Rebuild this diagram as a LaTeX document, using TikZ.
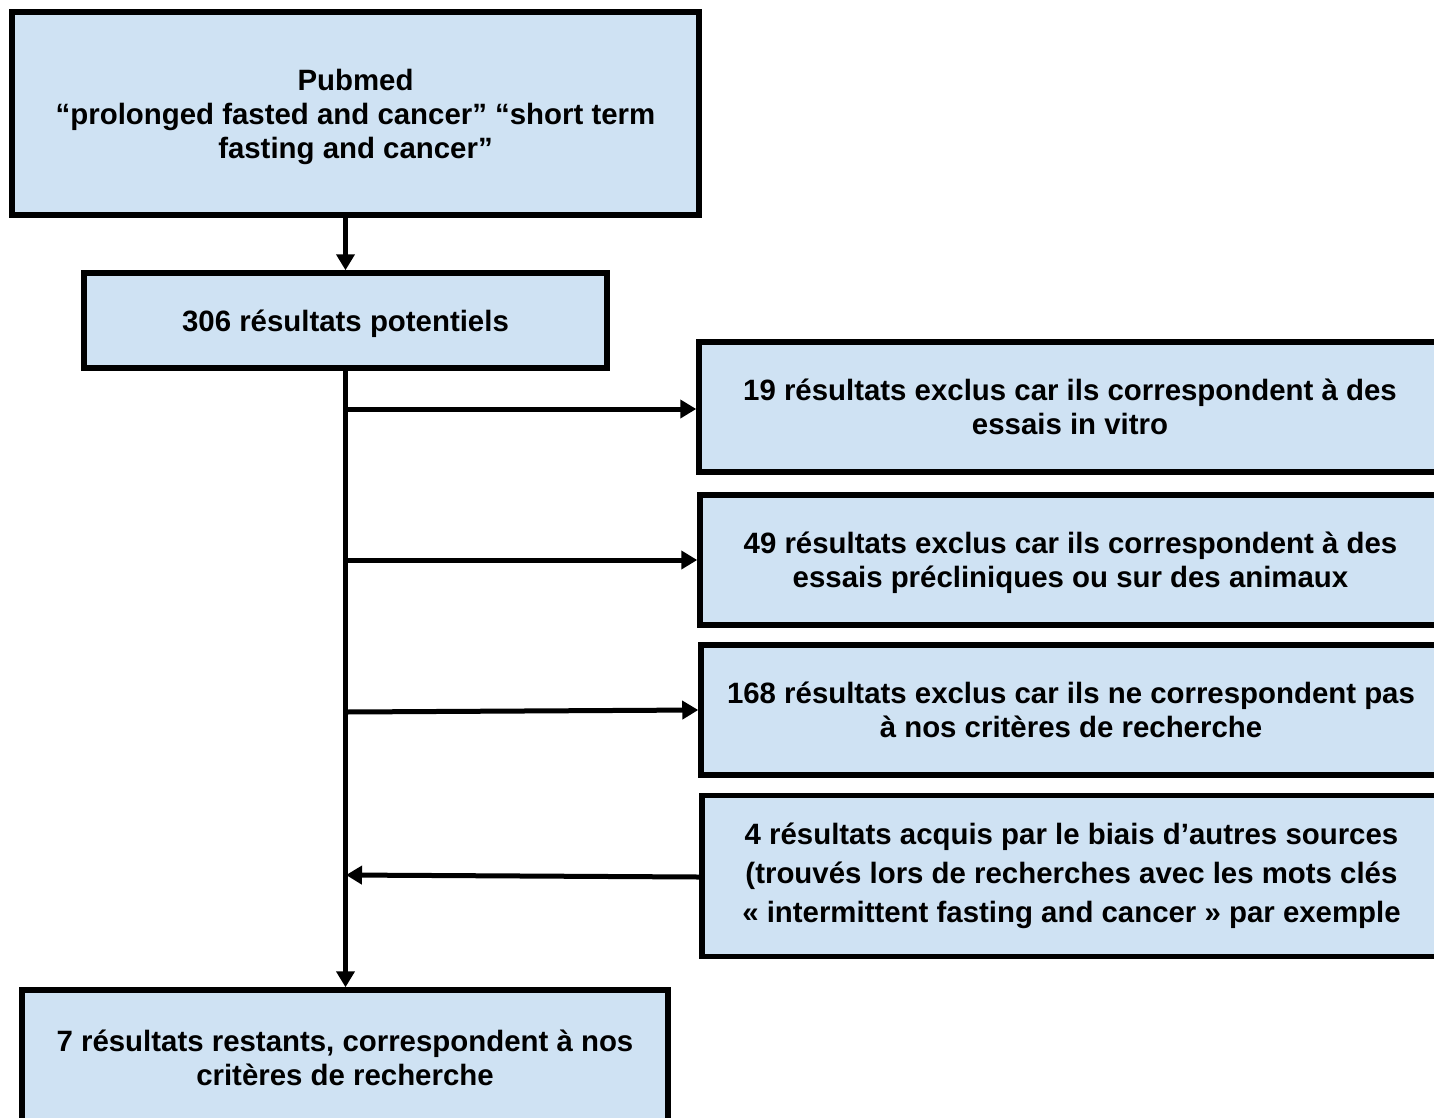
\documentclass[tikz,border=0pt]{standalone}
\usepackage{fontspec}
\setmainfont{Liberation Sans}
\usetikzlibrary{arrows.meta}
\definecolor{boxfill}{HTML}{CFE2F3}
\tikzset{
  flowbox/.style={draw=black, fill=boxfill, line width=5.5pt, inner sep=0pt,
    align=center, font=\fontsize{29.4}{34}\selectfont\bfseries},
  lowtext/.style={text depth=0pt},
  arr/.style={line width=5pt, -{Triangle[length=16pt,width=18pt]}}
}
\begin{document}
\begin{tikzpicture}[x=1pt,y=-1pt]
\useasboundingbox (0,0) rectangle (1434,1117);
\clip (0,0) rectangle (1434,1117);

% search source and first count
\node[flowbox, lowtext, minimum width=687pt, minimum height=203pt] (A) at (355.5,113.5)
  {Pubmed\\“prolonged fasted and cancer” “short term\\fasting and cancer”};
\node[flowbox, lowtext, minimum width=523pt, minimum height=95pt] (B) at (345.5,320.5)
  {306 résultats potentiels};

% exclusions and additions on the right
\node[flowbox, minimum width=742pt, minimum height=130pt] (C) at (1070,407)
  {19 résultats exclus car ils correspondent à des\\essais in vitro};
\node[flowbox, lowtext, minimum width=741pt, minimum height=130pt] (D) at (1070.5,560)
  {49 résultats exclus car ils correspondent à des\\essais précliniques ou sur des animaux};
\node[flowbox, minimum width=740pt, minimum height=130pt] (E) at (1071,710)
  {168 résultats exclus car ils ne correspondent pas\\à nos critères de recherche};
\node[flowbox, minimum width=739pt, minimum height=161pt,
      font=\fontsize{29.4}{39}\selectfont\bfseries] (F) at (1071.5,876)
  {4 résultats acquis par le biais d’autres sources\\(trouvés lors de recherches avec les mots clés\\« intermittent fasting and cancer » par exemple};

% final result
\node[flowbox, minimum width=646pt, minimum height=136pt] (G) at (345,1058)
  {7 résultats restants, correspondent à nos\\critères de recherche};

% branch points on the main line
\coordinate (t1) at (346,409);
\coordinate (t2) at (346,560);
\coordinate (t3) at (346,712);
\coordinate (t4) at (346,875);

\draw[arr] (A.south -| B.north) -- (B.north);
\draw[arr] (B.south) -- (B.south |- G.north);
\draw[arr] (t1) -- (t1 -| C.west);
\draw[arr] (t2) -- (t2 -| D.west);
\draw[arr] (t3) -- (E.west);
\draw[arr] (F.west |- 0,877) -- (t4);
\end{tikzpicture}
\end{document}
